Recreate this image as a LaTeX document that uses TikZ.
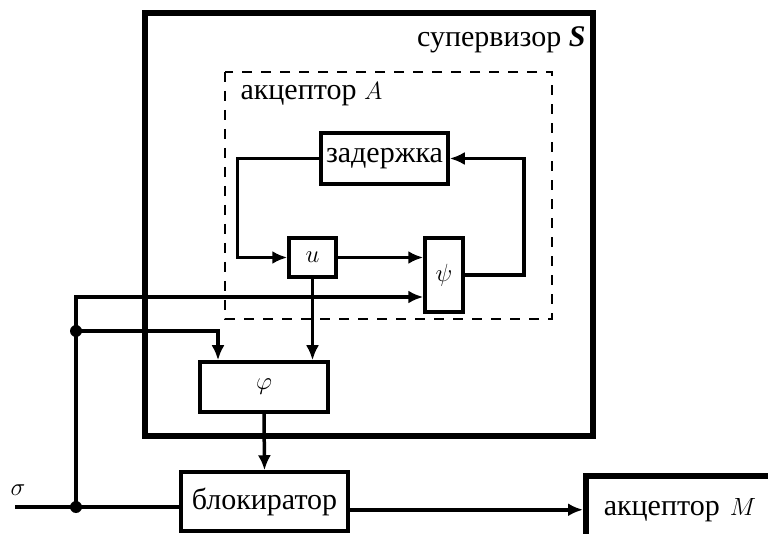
\documentclass[tikz,border=0pt]{standalone}
\usepackage{fontspec}
\setmainfont{Liberation Serif}
\usepackage{tikz}
\usetikzlibrary{arrows.meta}
\usetikzlibrary{positioning}
\usetikzlibrary{calc}

\begin{document}
\begin{tikzpicture}
    [
    x=1pt, y=-1pt, font=\fontsize{30}{36}\selectfont,
    >={Latex[length=15pt,width=13pt]},
    %Voreinstellungen für Blöcke und Linien
    block/.style={draw, line width=3.5pt, inner sep=0pt},
    conn/.style={line width=3.5pt},
    frame/.style={line width=6pt}
    ]
    
    %Bildausschnitt
    \useasboundingbox (0,0) rectangle (768,534);
    \clip (0,0) rectangle (768,534);
    
    %Rahmen Supervisor S
    \draw[frame] (145,13) rectangle (593,436);
    \node[anchor=base east] (lblS) at (589,47) {супервизор \textbf{\textit{S}}};
    
    %Rahmen Akzeptor A (gestrichelt)
    \draw[line width=1.6pt, dash pattern=on 10pt off 9pt] (225,72) rectangle (552,319);
    \node[anchor=base west] (lblA) at (237,100) {акцептор $A$};
    
    %Blöcke
    \node[block, minimum width=127pt, minimum height=51pt] (zad) at (384.5,158.5) {задержка};
    \node[block, minimum width=47pt, minimum height=39pt] (u) at (312.5,257.5) {$u$};
    \node[block, minimum width=38pt, minimum height=74pt] (psi) at (444,275) {$\psi$};
    \node[block, minimum width=128pt, minimum height=50pt] (phi) at (264,387) {$\varphi$};
    \node[block, minimum width=167pt, minimum height=59pt] (blok) at (264.5,501.5) {блокиратор};
    \node[block, line width=5.5pt, anchor=north west, minimum height=68pt, text width=180pt,
        align=left, inner xsep=18pt] (accM) at (583,473) {акцептор $M$};
    
    %Eingang sigma
    \node (lblsig) at (18,490) {$\sigma$};
    \coordinate (sig) at (15,507);
    \coordinate (dotB) at (76,507);
    \coordinate (dotA) at (76,331);
    \coordinate (topL) at (76,297);
    \coordinate (phiIn) at (218,331);
    
    %Rückkopplung innerhalb von A
    \draw[conn,->] (zad.west) -- ++(-82,0) |- (u.west);
    \draw[conn,->] (u.east) -- (u.east -| psi.west);
    \draw[conn,->] (psi.east) -- ++(59,0) |- (zad.east);
    
    %sigma-Leitungen
    \draw[conn] (sig) -- (sig -| blok.west);
    \draw[conn,->] (dotB) -- (topL) -- (topL -| psi.west);
    \draw[conn,->] (dotA) -| (phiIn |- phi.north);
    \fill (dotA) circle (6);
    \fill (dotB) circle (6);
    
    %Verbindungen nach unten
    \draw[conn,->] (u.south) -- (u.south |- phi.north);
    \draw[conn,->] (phi.south) -- (blok.north);
    \draw[conn,->] (blok.east |- accM.west) -- (accM.west);
\end{tikzpicture}
\end{document}
